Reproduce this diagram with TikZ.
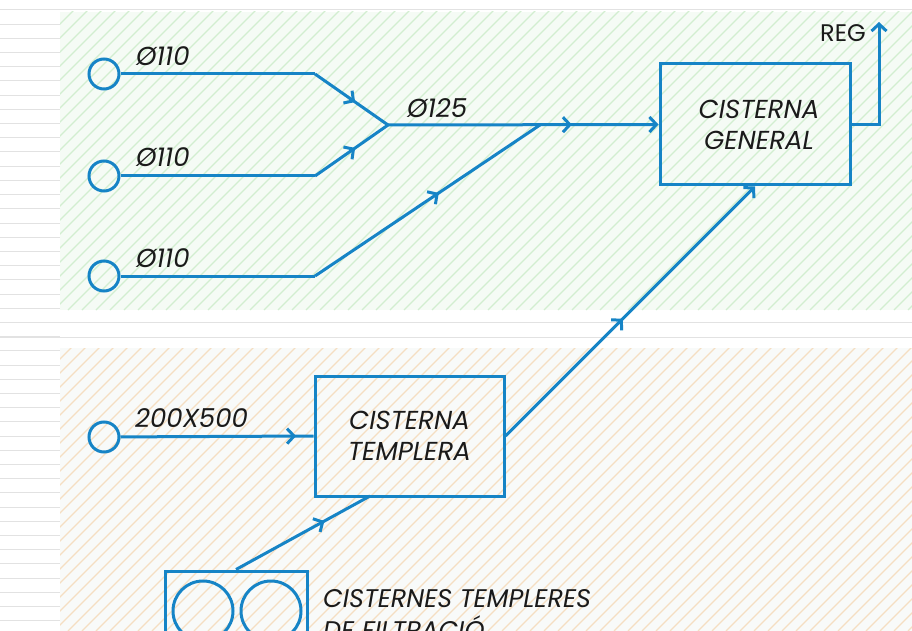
\documentclass[tikz,border=0pt]{standalone}
\usepackage{fontspec}
\setmainfont{Poppins}
\usetikzlibrary{arrows.meta,decorations.markings}
\definecolor{pipe}{RGB}{22,132,198}
\definecolor{greenbg}{RGB}{245,251,245}
\definecolor{greenln}{RGB}{210,238,208}
\definecolor{orangebg}{RGB}{248,250,249}
\definecolor{orangeln}{RGB}{245,222,194}
\definecolor{rule}{RGB}{226,226,226}
\definecolor{ink}{RGB}{26,26,26}
\begin{document}
\begin{tikzpicture}[x=1pt,y=-1pt,
  pipeline/.style={draw=pipe,line width=3pt},
  endtip/.style={-{Straight Barb[length=7pt,width=15pt]}},
  midarrow/.style={postaction={decorate},decoration={markings,mark=at position #1 with {\arrow{Straight Barb[length=7pt,width=15pt]}}}},
  inlet/.style={circle,draw=pipe,line width=3pt,minimum size=30pt,inner sep=0pt},
  tank/.style={draw=pipe,line width=3pt,inner sep=0pt,align=center,text=ink,font=\fontsize{26}{31}\selectfont\itshape},
  lbl/.style={inner sep=0pt,text=ink,font=\fontsize{26}{30}\selectfont\itshape},
]
\useasboundingbox (0,0) rectangle (912,631);
\fill[white] (0,0) rectangle (912,631);
% ruled lines on the left
\foreach \k in {0,...,44} \draw[rule,line width=1pt] (0,10+14.2*\k) -- (60,10+14.2*\k);
\draw[rule,line width=1pt] (0,10) -- (912,10);
\draw[rule,line width=1pt] (0,322) -- (912,322);
\draw[rule,line width=1pt] (0,337) -- (912,337);
% green hatched zone
\begin{scope}
\clip (60,12) rectangle (912,310);
\fill[greenbg] (60,12) rectangle (912,310);
\foreach \i in {0,...,85} \draw[greenln,line width=1.3pt] (60+\i*14-300,310) -- ++(300,-300);
\end{scope}
% orange hatched zone
\begin{scope}
\clip (60,348) rectangle (912,631);
\fill[orangebg] (60,348) rectangle (912,631);
\foreach \i in {0,...,85} \draw[orangeln,line width=1.3pt] (60+\i*14-300,631) -- ++(300,-300);
\end{scope}

% inlets
\node[inlet] (c1) at (104,74) {};
\node[inlet] (c2) at (104,176) {};
\node[inlet] (c3) at (104,276) {};
\node[inlet] (c4) at (104,437) {};
\coordinate (b1) at (315,74);
\coordinate (b2) at (315,176);
\coordinate (b3) at (315,276);
\coordinate (j) at (388,125);
\coordinate (m) at (540,125);

% tanks
\node[tank,minimum width=190pt,minimum height=121pt] (gen) at (755,124.5) {\hspace*{8pt}CISTERNA\\\hspace*{8pt}GENERAL};
\node[tank,minimum width=189pt,minimum height=120pt] (temp) at (409.5,436) {CISTERNA\\TEMPLERA};
\node[draw=pipe,line width=3pt,minimum width=142pt,minimum height=80pt,inner sep=0pt] (filt) at (236,611) {};
\node[inlet,minimum size=60pt] (f1) at (203,611) {};
\node[inlet,minimum size=60pt] (f2) at (271,611) {};
\coordinate (tin) at (370,496);
\coordinate (reg) at (879,22);
\coordinate (rb) at (879,124.5);

% pipes
\draw[pipeline] (c1) -- (b1);
\draw[pipeline,midarrow=0.55] (b1) -- (j);
\draw[pipeline] (c2) -- (b2);
\draw[pipeline,midarrow=0.55] (b2) -- (j);
\draw[pipeline] (c3) -- (b3);
\draw[pipeline,midarrow=0.55] (b3) -- (m);
\draw[pipeline,midarrow=0.68,endtip] (j) -- (gen.west);
\draw[pipeline,endtip] (gen.east) -- (rb) -- (reg);
\draw[pipeline,midarrow=0.91] (c4) -- (temp.west);
\draw[pipeline,midarrow=0.47,endtip] (temp.east) -- (gen.south);
\draw[pipeline,midarrow=0.66] (filt.north) -- (tin);

% labels
\node[lbl,anchor=base west] (l1) at (136,66) {Ø110};
\node[lbl,anchor=base west] (l2) at (136,167) {Ø110};
\node[lbl,anchor=base west] (l3) at (136,267) {Ø110};
\node[lbl,anchor=base west] (l4) at (407,118) {Ø125};
\node[lbl,anchor=base west] (l5) at (135,427) {200X500};
\node[inner sep=0pt,anchor=base east,text=ink,font=\fontsize{24}{28}\selectfont] (lr) at (866,42) {REG};
\node[lbl,anchor=base west,align=left,font=\fontsize{25.5}{32}\selectfont\itshape] (lf) at (323,639) {CISTERNES TEMPLERES\\DE FILTRACIÓ};
\end{tikzpicture}
\end{document}
